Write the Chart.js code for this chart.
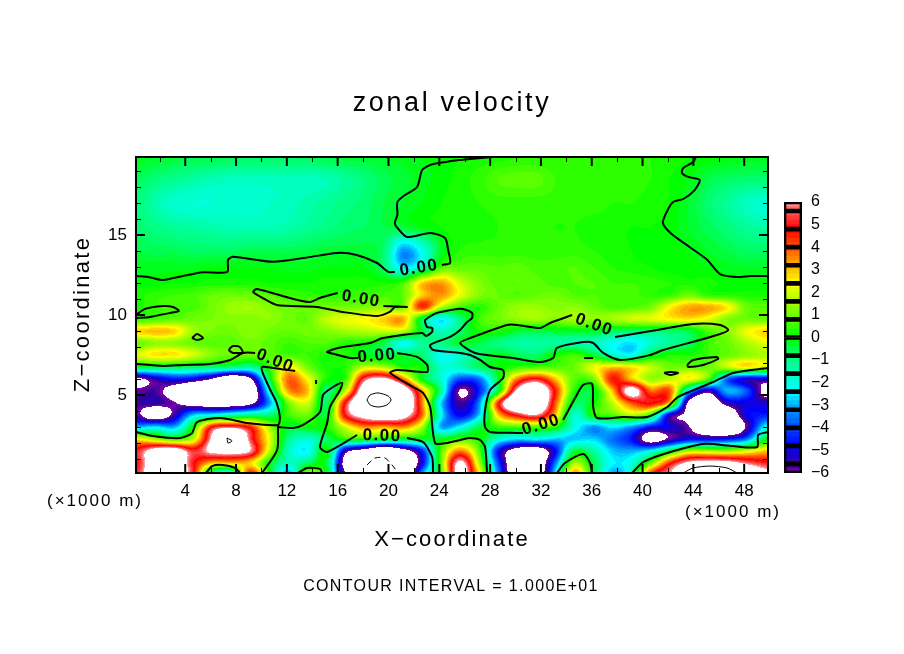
<!DOCTYPE html>
<html><head><meta charset="utf-8">
<style>html,body{margin:0;padding:0;background:#fff;overflow:hidden}
canvas{position:absolute;display:block}</style>
<script src="https://cdn.jsdelivr.net/npm/chart.js@4"></script>
</head><body>
<canvas id="main" width="904" height="654" style="left:0;top:0;width:904px;height:654px"></canvas>
<canvas id="bar" width="70" height="295" style="left:770px;top:190px;width:70px;height:295px"></canvas>
<script>
const xCoords=[0.125,1.625,3.125,4.625,6.125,7.625,9.125,10.625,12.125,13.625,15.125,16.625,18.125,19.625,21.125,22.625,24.125,25.625,27.125,28.625,30.125,31.625,33.125,34.625,36.125,37.625,39.125,40.625,42.125,43.625,45.125,46.625,48.125,49.875];
const zCoords=[0.125,0.75,1.5,2.25,3,3.75,4.5,5.25,6,6.75,7.5,8.25,9,9.75,10.5,11.25,12,13,14,15.5,17,18.5,19.875];
const u00=[5,8,8.5,5,-1,-1.8,4.4,0,-3,1,-.2,-6.2,-9,-10.5,-10,-3.4,.4,7,2.6,-3.4,-8,-8,-2.6,3.2,-.3,-3,-1.6,4,6,8,9,10.5,8,6.5];
const u01=[4.8,7.5,8,5,3,3,2.8,0,-1.6,-.8,-.4,-7,-9,-9.5,-9,-5,.8,6.5,1.6,-4,-8,-8,-3.6,1.4,-.5,-2.4,-2,.8,4.4,6.4,6.8,6.8,5.8,5];
const u02=[5,7,7.5,5.2,6.5,7,6,1.8,-1.6,-2.4,.1,-5.5,-7,-8.5,-7,-4.5,.6,3.6,.8,-4.6,-7,-7.5,-4.8,-.5,-1.3,-2.8,-3,-2.3,-.4,1.6,1.6,1.5,2,3];
const u03=[2.5,1.5,.5,1.8,6.5,10.5,5.5,2.2,-1,-1.8,-.7,.3,.2,-.2,-.4,-.3,-.2,.6,.2,-1.8,-2.6,-2.3,-2.8,-2.8,-2.7,-3.6,-4.6,-7,-5.8,-4.8,-4.8,-4.6,-3.6,0];
const u04=[-3,-2.5,-3,.2,4.8,5.5,4.5,1.5,-.3,0,.2,2,3.5,3.2,3.5,1.6,-3,-2.3,-.5,.4,.6,.7,.3,-2,-3.2,-2.5,-3.2,-4.6,-5,-6,-8,-9,-6,-2];
const u05=[-5.6,-7.5,-5.6,-2.8,-2.2,-1.5,-1,-.9,.5,1,-.3,5,7,8,7,3.8,-2.2,-4.8,-2.8,2.8,5,6,3,-1.8,.2,.7,1.6,.3,-5,-6.5,-8,-8,-5,-4.5];
const u06=[-5.6,-5.5,-6,-7,-7.5,-7.5,-6.6,-3.2,1,2,-.7,5,9,11,9,3.6,-2.6,-5.6,-3.4,4.4,9,9,4,-.5,0,1.8,4,4.8,2.8,-6.5,-8,-5.5,-5,-5.2];
const u07=[-5.9,-5.7,-7,-9,-9.5,-9.5,-8,-2,3.3,3,-1,1.8,8,11,8,3.3,-1.2,-6.2,-4.5,-.3,6.5,8.5,4.6,.3,-.3,3,7,3.8,4,-2.5,-5.5,-3,-3.8,-7];
const u08=[-6.5,-5.4,-4.6,-5,-6.2,-8,-6.3,-.5,3.8,2.4,.2,.5,5.5,6.5,3.8,0,-1.8,-4,-3.6,-.3,3.6,5,3,.8,1,4.6,3,1.4,1.8,2.4,.8,-3.6,-5,-5];
const u09=[-.4,-.5,-.6,-.7,-.8,-.9,-1.3,.4,2.5,1,.2,.3,1.8,1.6,.2,.1,-1.8,-1.6,-.7,-.1,.4,.6,.7,.9,2.2,2.8,2.6,1.8,1,1,.9,1.8,2.5,1.8];
const u10=[2,2.6,2.6,2,1.2,.9,.9,.8,.6,.5,.2,.3,-.2,-.5,-.4,-.8,-2.2,-1.8,-.9,-.2,-.6,-.8,.1,.5,-.3,-1.6,-2.2,-.4,.2,.2,.5,.9,1.3,1.6];
const u11=[.9,1.3,1.3,.9,.7,.8,1,.8,.5,.7,.7,.3,.2,-.5,-2.2,-1.2,-1,-.3,-.5,-1,-1.3,-1.3,-1.3,-1.4,-1.6,-2.2,-2.6,-1.8,-1.2,-.7,.5,.9,1.6,2.2];
const u12=[2.8,3,2.8,1.5,1.1,1,1.3,1,.9,1,1.2,1.5,1.7,1.9,1.8,-.3,-1.6,-.8,.2,.2,-.3,-.5,-.3,-.2,-.2,-.6,-.8,-.8,-.7,-.5,.6,1.2,2.2,2.8];
const u13=[.4,.6,.8,1,1.1,1.2,1.2,1.3,1,.9,1.8,2.2,2.4,2.8,3.2,-.5,-2.4,-1,.5,1,1.3,1.5,1.2,1.5,1.3,1.5,1.9,2.1,2.4,2.6,2.2,1.2,1,.9];
const u14=[.2,.5,.7,.6,1,1.4,1.5,1.2,.9,.9,1,1,1.1,1.3,1,4.4,1.8,.6,.3,.9,1.4,1.4,1.2,1.3,.9,.6,.7,1,2.4,3.2,3.2,2.6,1,.8];
const u15=[.2,.4,.5,.6,.9,1,.9,.7,.5,.4,.3,.4,.5,.6,.8,2.8,3.4,2.2,1.2,.9,.7,.9,1,.7,.7,.6,.6,.4,.4,1,.4,.3,.2,.2];
const u16=[0,0,.1,.1,.2,.2,.2,.1,.1,.1,.2,.2,.2,.2,.5,2.8,3.3,2,1.2,.8,.9,.8,.6,.7,.7,.5,.5,.4,.3,.2,.2,0,0,0];
const u17=[-.2,-.2,-.2,-.2,-.1,-.1,-.1,-.1,-.2,-.2,-.1,-.1,-.1,-.8,-2.6,-1.6,.6,.8,.8,.7,.8,.6,.6,.7,.5,.3,.2,.1,0,0,-.1,-.2,-.3,-.3];
const u18=[-.5,-.6,-.6,-.7,-.7,-.7,-.6,-.6,-.6,-.5,-.4,-.4,-.4,-.8,-3.2,-2.2,-.3,.3,.4,.4,.4,.4,.4,.4,.3,.2,.1,0,0,-.1,-.3,-.5,-.7,-.7];
const u19=[-.8,-1,-1.2,-1.3,-1.4,-1.5,-1.5,-1.5,-1.4,-1.2,-1,-.8,-.7,-.5,-.4,-.1,.1,.2,.2,.3,.4,.4,.3,.3,.2,.2,.1,.1,0,-.3,-.6,-.9,-1.2,-1.4];
const u20=[-.9,-1.4,-1.8,-1.9,-1.9,-1.8,-1.8,-1.7,-1.6,-1.4,-1.2,-1,-.8,-.5,-.3,-.1,.1,.2,.3,.4,.4,.4,.4,.4,.4,.3,.3,.2,.1,-.3,-.8,-1.2,-1.6,-1.9];
const u21=[-.6,-.9,-1.1,-1.3,-1.5,-1.6,-1.6,-1.6,-1.6,-1.6,-1.5,-1.2,-.9,-.6,-.4,-.2,0,.2,.4,.7,.8,.8,.5,.4,.4,.4,.4,.3,.1,-.1,-.5,-.7,-.8,-.8];
const u22=[-.2,-.3,-.4,-.5,-.5,-.6,-.7,-.7,-.7,-.6,-.5,-.4,-.4,-.3,-.2,-.1,0,.1,.2,.2,.3,.3,.3,.3,.3,.3,.3,.3,.2,.1,0,-.1,-.2,-.2];
const fieldRows=[u00,u01,u02,u03,u04,u05,u06,u07,u08,u09,u10,u11,u12,u13,u14,u15,u16,u17,u18,u19,u20,u21,u22];

const colorStops=[[-6,120,0,170],[-5.6,50,0,150],[-4.8,0,0,255],[-4,0,70,255],[-3.2,0,150,255],[-2.4,0,255,255],[-1.6,0,255,190],[-.8,0,255,110],[0,0,255,0],[.8,90,255,0],[1.6,170,255,0],[2.4,255,255,0],[3.2,255,170,0],[4,255,80,0],[4.8,255,0,0],[5.6,255,90,90],[6,255,160,160]];

const zeroA=[[.125,12.44],[1.23,12.35],[2.25,12.19],[3.83,12.44],[5.4,12.67],[7.3,12.69],[7.37,13.44],[7.76,13.64],[10.9,13.33],[13.3,13.56],[15.95,13.88],[17.5,13.75],[19.1,13.25],[20,12.69],[20.5,12.69]];
const zeroB=[[24.2,13.13],[24.85,13.25],[24.7,14.06],[24.45,14.81],[23.3,15.13],[21.45,14.88],[20.7,15.44],[20.5,15.75],[20.7,16.25],[20.7,17.06],[21.3,17.5],[22.25,18],[22.65,19.06],[23.3,19.38],[23.9,19.5],[25.6,19.69],[26.4,19.75],[28.2,19.875]];
const zeroC=[[44.2,19.875],[44,19.56],[43.2,19.19],[43.1,18.88],[43.6,18.63],[44.5,18.44],[44.1,17.81],[43.2,17.25],[42.4,17.06],[41.9,16.44],[41.6,15.75],[42.2,15.13],[43.7,14.25],[45.1,13.44],[46.1,12.56],[47.4,12.38],[48.5,12.44],[49.875,12.44]];
const zeroD=[[16,11.38],[14.6,11.06],[13.8,10.81],[12.25,11.06],[9.65,11.63],[9.35,11.44],[10.1,11.06],[11.2,10.63],[14.35,10.5],[16.4,10.19],[19.1,9.94],[20.1,10.19],[20.5,10.5],[21.45,10.5],[19.6,10.56]];
const zeroE=[[.125,10],[.84,10.38],[2.25,10.56],[3.04,10.5],[3.5,10.25],[2.8,10.13],[1.23,9.88],[.125,9.81]];
const zeroF=[[.2,6.94],[2.25,6.81],[3.83,6.88],[5.95,6.94],[7.53,7.19],[8.55,7.63],[9.5,7.63]];
const zeroG=[[8.55,7.69],[8.3,8],[7.76,8.06],[7.45,7.81],[7.76,7.63],[8.55,7.63]];
const zeroH=[[12.65,6.5],[10.9,6.69],[10.05,6.75],[10.1,6.38],[10.7,5.31],[11.2,4.5],[11.45,3.63],[11.3,3.13],[8.87,3.25],[6.74,3.56],[4.93,3.31],[4.54,2.63],[3.6,2.31],[1.46,2.44],[.125,2.69]];
const zeroI=[[11.3,3.13],[11.23,1.56],[10.05,.125]];
const zeroJ=[[11.3,3],[12.49,2.94],[13.28,3.13],[14.61,3.94],[14.85,5],[15.64,5.5],[16.35,5.75],[16.19,5.31],[15.4,4.25],[15.17,3.25],[14.61,1.75],[15.17,1.44],[17.53,2.5]];
const zeroK=[[21.46,2.31],[22.72,2.06],[23.43,1.13],[23.51,.125]];
const zeroL=[[20.68,7.63],[22.25,7.38],[23.04,6.88],[23.04,6.44],[20.68,6.56],[20.13,6.38],[21.94,5.5],[22.72,5.13],[23.28,4.25],[23.67,2],[24.6,2],[25.64,2.19],[26.43,2.31],[27.2,2.19],[27.6,1.75],[27.76,.125]];
const zeroM=[[17.6,7.31],[16.98,7.31],[15.4,7.63],[15.17,7.69],[16.03,7.94],[18.55,8.25],[19.57,8.56],[22.65,8.88],[22.96,8.69],[23.43,8.94],[23.43,9.19],[23.04,9.25],[22.88,9.56],[22.88,9.69],[23.83,10.13],[25.4,10.38],[25.87,10.38],[26.58,10.13],[26.58,9.81],[26.19,9.56],[25.64,9.06],[24.85,8.63],[23.28,8.13],[23.52,7.81],[25.64,7.63],[26.43,7.5],[27.21,7.19],[28,6.75],[29.02,6.56],[29.02,6.06],[28,5.31],[27.6,4.06],[27.6,3],[28,2.69],[30.13,2.63],[30.6,2.63]];
const zeroN=[[33.75,3.44],[34.69,4.81],[35.32,5.63],[36.03,5.69],[36.11,4.25],[36.43,3.56],[38.47,3.63],[40.36,3.63],[41.94,4.25],[42.8,4.88],[45.56,5.81],[47.13,6.38],[49.875,6.69]];
const zeroO=[[37.84,8.63],[41.15,9.06],[43.98,9.44],[46.11,9.38],[46.74,9.06],[45.87,8.75],[41.62,7.81],[40.6,7.5],[38.24,7.19],[36.9,7.63],[36.11,8.25],[35.32,8.31],[33.26,7.94],[32.96,7.31],[31.94,7.06],[29.81,7.31],[26.82,7.63],[25.64,8.25],[26.43,8.56],[29.34,9.38],[30.13,9.38],[31.94,9.19],[32.72,9.5],[34.46,10]];
const zeroP=[[39.18,.125],[40.05,.81],[41.94,1.38],[44.77,1.94],[47.13,1.81],[49.02,1.75],[49.1,2.5],[49.875,2.69]];
const zeroQ=[[5.64,.125],[6.11,.56],[6.98,.63],[7.92,.44],[8.31,.125]];
const zeroR=[[12.88,.125],[13.59,.44],[14.61,.38],[14.77,.125]];
const zeroS=[[33.26,.125],[33.89,.75],[35.32,1.31],[35.87,.75],[36.03,.125]];
const zeroT=[[43.51,6.88],[43.98,7.19],[45.87,7.38],[45.95,7.25],[44.77,6.88],[43.6,6.75],[43.51,6.88]];
const zeroU=[[41.7,6.38],[42.17,6.44],[42.8,6.38],[42.17,6.25],[41.7,6.38]];
const zeroV=[[35.4,7.31],[36.11,7.31]];
const zeroW=[[4.54,8.56],[4.93,8.81],[5.4,8.56],[4.93,8.44],[4.54,8.56]];
const zeroX=[[14.3,5.94],[14.3,5.69]];
const zeroContours=[zeroA,zeroB,zeroC,zeroD,zeroE,zeroF,zeroG,zeroH,zeroI,zeroJ,zeroK,zeroL,zeroM,zeroN,zeroO,zeroP,zeroQ,zeroR,zeroS,zeroT,zeroU,zeroV,zeroW,zeroX];
const tenA=[[18.31,4.69],[18.55,5],[19.18,5.13],[19.97,4.94],[20.2,4.69],[19.89,4.38],[19.18,4.25],[18.55,4.38],[18.31,4.69]];
const tenB=[[7.29,2.31],[7.69,2.13],[7.37,2],[7.29,2.31]];
const tenC=[[43.2,.125],[43.98,.44],[45.32,.56],[46.65,.44],[47.44,.125]];
const thinContours=[tenA,tenB,tenC];
const minusTen=[[18.31,.63],[18.94,1.06],[19.73,1.06],[20.28,.63],[20.76,.125]];
const contourLabelText="0.00";
const contourLabelX=[22.41,17.84,11.07,19.1,19.5,32.02,36.19];
const contourLabelZ=[12.94,11,7.13,7.44,2.44,3.13,9.38];
const contourLabelAngle=[-9,10,22,-5,2,-17,20];

const xTickLabels=[4,8,12,16,20,24,28,32,36,40,44,48];
const xMinorTicks=[2,6,10,14,18,22,26,30,34,38,42,46];
const zTickLabels=[5,10,15];
const zMinorTicks=[1,2,3,4,6,7,8,9,11,12,13,14,16,17,18,19];
const barEdges=[-6,-5.6,-4.8,-4,-3.2,-2.4,-1.6,-.8,0,.8,1.6,2.4,3.2,4,4.8,5.6,6];
const barTicks=[-6,-5,-4,-3,-2,-1,0,1,2,3,4,5,6];

const titleText="zonal velocity",xTitle="X\u2212coordinate",zTitle="Z\u2212coordinate",unitText="(\u00d71000 m)",noteText="CONTOUR INTERVAL = 1.000E+01";
const FONT='"Liberation Sans"';

function colourFor(v){
  if(v>6||v<-6) return [255,255,255];
  for(let i=0;i<colorStops.length-1;i++){
    const a=colorStops[i],b=colorStops[i+1];
    if(v<=b[0]){const t=(v-a[0])/(b[0]-a[0]);
      return [a[1]+t*(b[1]-a[1]),a[2]+t*(b[2]-a[2]),a[3]+t*(b[3]-a[3])];}
  }
  return colorStops[colorStops.length-1].slice(1);
}
function locate(arr,v){let i=0;while(i<arr.length-2&&v>arr[i+1])i++;return [i,Math.min(1,Math.max(0,(v-arr[i])/(arr[i+1]-arr[i])))];}
function cr(p0,p1,p2,p3,t){return p1+.5*t*(p2-p0+t*(2*p0-5*p1+4*p2-p3+t*(3*(p1-p2)+p3-p0)));}
function sample(x,z){
  const [i,tx]=locate(xCoords,x),[j,tz]=locate(zCoords,z);
  const col=[];
  for(let r=-1;r<=2;r++){
    const row=fieldRows[Math.max(0,Math.min(fieldRows.length-1,j+r))];
    const g=k=>row[Math.max(0,Math.min(row.length-1,k))];
    col.push(cr(g(i-1),g(i),g(i+1),g(i+2),tx));
  }
  return cr(col[0],col[1],col[2],col[3],tz);
}
const fieldPlugin={id:'field',beforeDatasetsDraw(c){
  const {ctx,chartArea:a,scales:{x,y}}=c;
  const w=Math.round(a.right-a.left),h=Math.round(a.bottom-a.top);
  const off=document.createElement('canvas');off.width=w;off.height=h;
  const oc=off.getContext('2d'),img=oc.createImageData(w,h);
  for(let py=0;py<h;py++){
    const z=y.getValueForPixel(a.top+py+.5);
    for(let px=0;px<w;px++){
      const v=Math.round(sample(x.getValueForPixel(a.left+px+.5),z)/.2)*.2;
      const rgb=colourFor(v),k=(py*w+px)*4;
      img.data[k]=rgb[0];img.data[k+1]=rgb[1];img.data[k+2]=rgb[2];img.data[k+3]=255;
    }
  }
  oc.putImageData(img,0,0);
  ctx.drawImage(off,a.left,a.top);
}};
function text(ctx,s,px,py,font,spacing,align,rot){
  ctx.save();ctx.translate(px,py);if(rot)ctx.rotate(rot*Math.PI/180);
  ctx.font=font;ctx.letterSpacing=(spacing||0)+'px';ctx.textAlign=align||'center';ctx.textBaseline='middle';
  ctx.fillStyle='#000';ctx.fillText(s,0,0);ctx.restore();
}
const framePlugin={id:'frame',afterDatasetsDraw(c){
  const {ctx,chartArea:a,scales:{x,y}}=c;
  ctx.save();ctx.strokeStyle='#000';ctx.lineCap='butt';
  const tick=(x0,y0,x1,y1)=>{ctx.beginPath();ctx.moveTo(x0,y0);ctx.lineTo(x1,y1);ctx.stroke();};
  ctx.lineWidth=2;
  ctx.strokeRect(a.left,a.top,a.right-a.left,a.bottom-a.top);
  xTickLabels.forEach(v=>{const p=x.getPixelForValue(v);tick(p,a.top,p,a.top+9);tick(p,a.bottom,p,a.bottom-9);});
  zTickLabels.forEach(v=>{const p=y.getPixelForValue(v);tick(a.left,p,a.left+9,p);tick(a.right,p,a.right-9,p);});
  ctx.lineWidth=1;
  xMinorTicks.forEach(v=>{const p=Math.round(x.getPixelForValue(v))+.5;tick(p,a.top,p,a.top+5);tick(p,a.bottom,p,a.bottom-5);});
  zMinorTicks.forEach(v=>{const p=Math.round(y.getPixelForValue(v))+.5;tick(a.left,p,a.left+5,p);tick(a.right,p,a.right-5,p);});
  ctx.restore();
  contourLabelX.forEach((v,i)=>{
    text(ctx,contourLabelText,x.getPixelForValue(v),y.getPixelForValue(contourLabelZ[i]),'600 17px '+FONT,1.5,'center',contourLabelAngle[i]);
  });
  text(ctx,titleText,452,104,'27px '+FONT,2.6);
  text(ctx,xTitle,452,540,'22px '+FONT,2.1);
  text(ctx,zTitle,83,314,'22px '+FONT,2.3,'center',-90);
  text(ctx,unitText,95,501,'17px '+FONT,2);
  text(ctx,unitText,733,512,'17px '+FONT,2);
  text(ctx,noteText,451,587,'16px '+FONT,1.35);
}};
const gridPoints=[];
fieldRows.forEach((row,j)=>row.forEach((v,i)=>gridPoints.push({x:xCoords[i],y:zCoords[j],v})));
const toPts=p=>p.map(q=>({x:q[0],y:q[1]}));
const lineSet=(p,w,dash)=>({type:'scatter',data:toPts(p),showLine:true,borderColor:'#000',borderWidth:w,borderDash:dash||[],pointRadius:0,tension:0.25,fill:false});
new Chart(document.getElementById('main'),{
  type:'scatter',
  data:{datasets:[
    {label:'zonal velocity',data:gridPoints,pointRadius:0,showLine:false},
    ...zeroContours.map(p=>lineSet(p,2)),
    ...thinContours.map(p=>lineSet(p,1)),
    lineSet(minusTen,1,[6,4])
  ]},
  options:{responsive:false,animation:false,devicePixelRatio:1,
    layout:{padding:{left:0,right:136,top:157,bottom:0}},
    plugins:{legend:{display:false},tooltip:{enabled:false},title:{display:false}},
    scales:{
      x:{type:'linear',min:.125,max:49.875,grid:{display:false,drawTicks:false},border:{display:false},
        afterBuildTicks(s){s.ticks=xTickLabels.map(v=>({value:v}));},
        afterFit(s){s.height=181;},
        ticks:{autoSkip:false,maxRotation:0,padding:8,color:'#000',font:{family:'Liberation Sans',size:17},callback:v=>String(v)}},
      y:{type:'linear',min:.125,max:19.875,grid:{display:false,drawTicks:false},border:{display:false},
        afterBuildTicks(s){s.ticks=zTickLabels.map(v=>({value:v}));},
        afterFit(s){s.width=136;},
        ticks:{autoSkip:false,padding:9,color:'#000',font:{family:'Liberation Sans',size:17},callback:v=>String(v)}}
    }
  },
  plugins:[fieldPlugin,framePlugin]
});
// colour bar
const shadeSets=[],boxSets=[];
for(let i=0;i<barEdges.length-1;i++){
  const lo=barEdges[i],hi=barEdges[i+1],n=Math.round((hi-lo)/.2);
  for(let k=0;k<n;k++){
    const a=lo+k*.2,b=a+.2,rgb=colourFor((a+b)/2);
    shadeSets.push({data:[[a,b]],backgroundColor:`rgb(${rgb.map(Math.round).join(',')})`,borderWidth:0,barPercentage:1,categoryPercentage:1,grouped:false,order:2});
  }
  boxSets.push({data:[[lo,hi]],backgroundColor:'rgba(0,0,0,0)',borderColor:'#000',borderWidth:2,borderSkipped:false,barPercentage:1,categoryPercentage:1,grouped:false,order:1});
}
new Chart(document.getElementById('bar'),{
  type:'bar',
  data:{labels:['u'],datasets:[...shadeSets,...boxSets]},
  options:{responsive:false,animation:false,devicePixelRatio:1,
    layout:{padding:{left:14,right:0,top:12,bottom:12}},
    plugins:{legend:{display:false},tooltip:{enabled:false}},
    scales:{
      x:{display:false,stacked:false,grid:{display:false}},
      y:{position:'right',min:-6,max:6,grid:{display:false,drawTicks:false},border:{display:false},
        afterBuildTicks(s){s.ticks=barTicks.map(v=>({value:v}));},
        afterFit(s){s.width=38;s.paddingTop=0;s.paddingBottom=0;},
        ticks:{autoSkip:false,padding:9,color:'#000',font:{family:'Liberation Sans',size:16},
          callback:v=>String(v).replace('-','\u2212')}}
    }
  }
});
</script>
</body></html>
